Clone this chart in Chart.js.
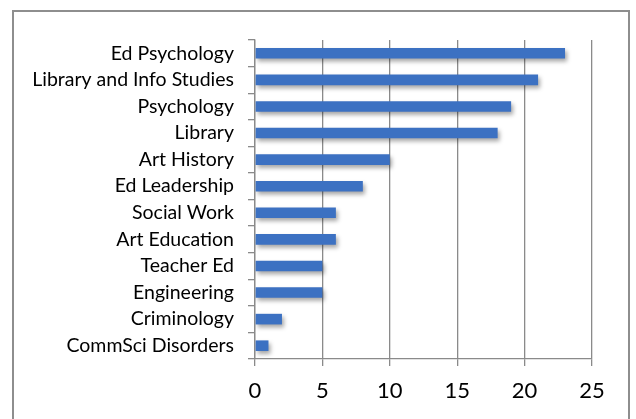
<!DOCTYPE html>
<html>
<head>
<meta charset="utf-8">
<script src="https://cdn.jsdelivr.net/npm/chart.js@4"></script>
<style>
  body { margin: 0; background: #fff; }
  #wrap { position: relative; width: 636px; height: 419px; overflow: hidden; }
  #frame { position: absolute; left: 12px; top: 10px; width: 618px; height: 430px;
           border: 2px solid #8e8e8e; box-sizing: border-box; }
  canvas { position: absolute; left: 0; top: 0; }
</style>
</head>
<body>
<div id="wrap">
  <canvas id="chart" width="636" height="419"></canvas>
  <div id="frame"></div>
</div>
<script>
const departments = [
    "Ed Psychology", "Library and Info Studies", "Psychology", "Library",
    "Art History", "Ed Leadership", "Social Work", "Art Education",
    "Teacher Ed", "Engineering", "Criminology", "CommSci Disorders"
];
const counts = [23, 21, 19, 18, 10, 8, 6, 6, 5, 5, 2, 1];
const xTicks = [0, 5, 10, 15, 20, 25];

// soft drop shadow under bars, like the office chart
const barShadow = {
    id: "barShadow",
    beforeDatasetsDraw(chart) {
        const ctx = chart.ctx;
        ctx.save();
        ctx.shadowColor = "rgba(0,0,0,0.35)";
        ctx.shadowBlur = 4;
        ctx.shadowOffsetX = 2;
        ctx.shadowOffsetY = 3;
    },
    afterDatasetsDraw(chart) {
        chart.ctx.restore();
    }
};

const ctx = document.getElementById("chart").getContext("2d");

new Chart(ctx, {
    type: "bar",
    data: {
        labels: departments,
        datasets: [{
            data: counts,
            backgroundColor: "#3c71c2",
            borderWidth: 0,
            barPercentage: 0.4,
            categoryPercentage: 1
        }]
    },
    options: {
        indexAxis: "y",
        responsive: false,
        animation: false,
        layout: { padding: { left: 0, right: 44, top: 40, bottom: 0 } },
        plugins: {
            legend: { display: false },
            tooltip: { enabled: false }
        },
        scales: {
            x: {
                min: 0,
                max: 25,
                afterBuildTicks(scale) {
                    scale.ticks = xTicks.map(v => ({ value: v }));
                },
                afterFit(scale) { scale.height = 60; },
                grid: {
                    color: "#8a8a8a",
                    lineWidth: 1.3,
                    tickLength: 7,
                    drawTicks: true
                },
                border: { display: true, color: "#8a8a8a", width: 1.3 },
                ticks: {
                    color: "#000",
                    padding: 12,
                    font: { family: "Lato", size: 22 }
                }
            },
            y: {
                afterFit(scale) { scale.width = 255; },
                grid: {
                    drawOnChartArea: false,
                    color: "#8a8a8a",
                    lineWidth: 1.3,
                    tickLength: 7,
                    offset: true
                },
                border: { display: true, color: "#8a8a8a", width: 1.3 },
                ticks: {
                    color: "#000",
                    padding: 14,
                    autoSkip: false,
                    font: { family: "Lato", size: 19.5 }
                }
            }
        }
    },
    plugins: [barShadow]
});
</script>
</body>
</html>
